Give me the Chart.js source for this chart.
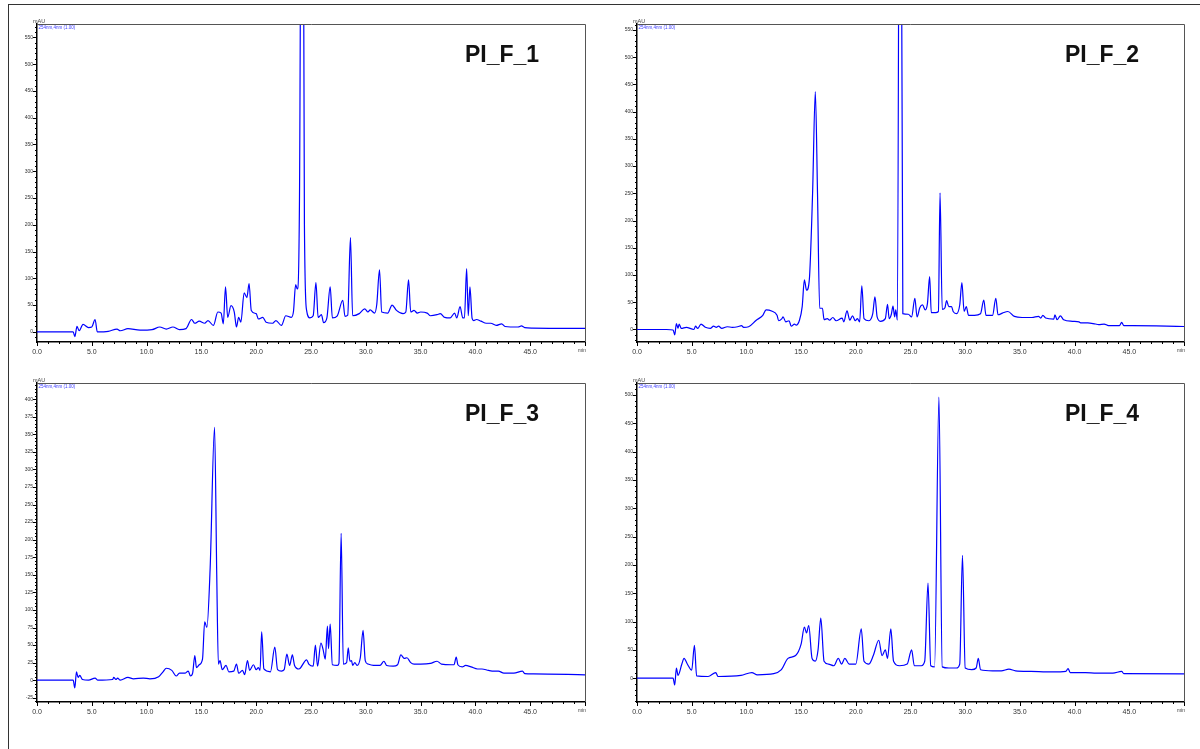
<!DOCTYPE html>
<html><head><meta charset="utf-8">
<script src="https://cdn.jsdelivr.net/npm/chart.js@4.4.1/dist/chart.umd.min.js"></script>
<style>
html,body{margin:0;padding:0;background:#fff;width:1200px;height:749px;overflow:hidden;}
.frame{position:absolute;left:8px;top:4px;width:1300px;height:800px;border-top:1.5px solid #333;border-left:1.5px solid #333;}
.panel{position:absolute;}
canvas{display:block;}
</style></head><body>
<div class="frame"></div>
<div class="panel" style="left:0;top:0;"><canvas id="c1" width="600" height="370"></canvas></div>
<div class="panel" style="left:600px;top:0;"><canvas id="c2" width="600" height="370"></canvas></div>
<div class="panel" style="left:0;top:358px;"><canvas id="c3" width="600" height="391"></canvas></div>
<div class="panel" style="left:600px;top:358px;"><canvas id="c4" width="600" height="391"></canvas></div>
<script>
// ---- data (retention time, min / absorbance, mAU) ----
const panelTitles = ["PI_F_1", "PI_F_2", "PI_F_3", "PI_F_4"];
const detectorLabel = "254nm,4nm (1.00)";
const xMajorLabels = ["0.0","5.0","10.0","15.0","20.0","25.0","30.0","35.0","40.0","45.0"];

const p1Time = [0,3.3,3.45,3.65,3.85,4.2,4.7,5.0,5.3,5.5,6.5,7.3,7.6,8.3,9.4,10.5,11.2,11.8,12.4,13.0,13.6,14.1,14.4,14.8,15.3,15.6,16.1,16.5,16.8,17.0,17.2,17.4,17.7,18.0,18.2,18.4,18.6,18.9,19.15,19.35,19.55,20.0,20.2,20.6,20.9,21.5,21.8,22.3,22.7,23.2,23.4,23.6,23.75,23.95,24.2,24.4,24.6,24.9,25.2,25.45,25.65,25.95,26.15,26.45,26.75,26.95,27.4,27.9,28.1,28.35,28.6,28.8,29.4,29.9,30.2,30.4,30.8,31.0,31.25,31.45,32.0,32.4,32.8,33.4,33.65,33.9,34.1,34.4,34.7,35.0,35.6,35.9,36.5,36.8,37.2,37.7,38.1,38.3,38.6,38.85,39.0,39.2,39.35,39.5,39.7,39.85,40.1,40.5,41.0,41.4,41.9,42.4,42.7,43.9,44.2,44.5,45.2,50];
const p1Signal = [0,0,-9,10,2,14,8,9,23,0,1,5,2,6,3,4,9,5,9,4,6,23,16,20,16,21,12,37,35,15,84,27,49,37,9,27,18,73,64,90,40,34,24,27,18,16,21,12,30,27,38,88,80,250,1400,200,40,26,30,92,27,32,17,26,84,26,30,59,29,31,176,30,34,43,37,41,35,51,116,37,35,50,40,34,37,97,37,40,35,37,35,30,32,34,27,26,35,26,47,26,26,118,30,84,25,21,23,20,16,16,12,15,10,9,11,8,7,6.5];

const p2Time = [0,2.7,3.3,3.45,3.6,3.75,3.85,4.05,4.5,5.2,5.35,5.55,5.85,6.25,6.7,7.0,7.25,7.45,7.75,8.25,8.7,9.2,9.55,9.75,10.2,10.9,11.5,11.8,12.3,12.8,12.95,13.25,13.35,13.6,13.9,14.1,14.4,14.55,14.85,15.1,15.3,15.5,15.75,16.05,16.3,16.5,16.7,16.95,17.1,17.4,17.6,17.9,18.2,18.75,18.9,19.2,19.45,19.7,19.95,20.15,20.35,20.55,20.75,21.2,21.55,21.75,21.95,22.25,22.7,22.9,23.05,23.25,23.4,23.55,23.65,23.8,24.05,24.3,24.8,25.1,25.4,25.6,25.85,26.1,26.35,26.55,26.75,26.9,27.3,27.55,27.7,27.9,28.15,28.3,28.5,28.75,28.9,29.2,29.5,29.7,29.9,30.1,30.3,30.85,31.4,31.7,31.9,32.5,32.8,33.0,33.4,33.9,34.5,35.2,36.1,36.7,36.9,37.1,37.35,38.1,38.2,38.4,38.7,39.0,39.8,40.4,40.6,41.2,41.9,42.2,42.7,43.1,44.1,44.3,44.5,45.3,50];
const p2Signal = [0,0,-1,-10,11,2,10,2,4,0,6,2,10,4,2,6,4,6,2,5,4,5,7,4,5,17,26,36,34,26,16,20,23,14,16,6,10,8,17,42,91,72,91,250,437,250,39,39,18,20,17,22,16,21,14,34,17,25,16,20,14,80,20,16,29,60,23,15,20,46,20,28,43,23,36,17,1400,29,28,23,57,23,40,45,36,48,97,31,31,33,251,37,40,53,42,42,33,29,45,86,33,42,26,26,29,54,26,26,57,27,30,33,24,22,22,24,21,26,21,19,27,18,25,18,15,14,12,12,10,9,10,7,7,13,7,7,5.5];

const p3Time = [0,3.3,3.45,3.6,3.75,3.9,4.15,4.7,5.3,5.55,6.9,7.0,7.2,7.35,7.6,8.3,8.8,9.7,10.3,11.1,11.5,11.8,12.3,12.7,13.0,13.5,13.8,14.0,14.2,14.4,14.55,14.8,15.1,15.3,15.5,15.8,16.2,16.4,16.55,16.7,16.9,17.25,17.5,17.95,18.2,18.4,18.75,18.95,19.2,19.4,19.75,20.0,20.2,20.35,20.5,20.7,21.3,21.7,21.95,22.3,22.55,22.8,23.05,23.3,23.5,23.9,24.6,24.8,25.2,25.4,25.6,25.9,26.1,26.3,26.5,26.6,26.75,26.95,27.4,27.55,27.75,27.95,28.25,28.4,28.55,28.7,28.8,29.0,29.2,29.5,29.75,29.95,30.2,30.7,31.3,31.65,31.9,32.5,32.9,33.2,33.5,33.75,34.1,34.4,35.0,35.9,36.5,36.9,37.8,38.05,38.25,38.4,38.8,39.1,39.6,40.2,40.6,41.2,41.7,42.1,42.6,43.5,44.3,44.5,45.3,50];
const p3Signal = [0,0,-11,12,4,7,1,0,3,0,1,4,1,3,0,4,2,3,2,5,12,17,14,6,10,10,13,6,10,35,18,22,30,83,75,160,360,150,23,28,15,21,12,13,23,10,14,8,28,14,22,15,18,14,69,16,12,47,15,13,15,37,21,36,21,16,29,23,20,50,20,53,44,30,77,45,80,22,21,24,209,23,25,46,27,28,21,25,21,32,71,28,23,21,21,27,21,20,22,36,31,32,25,23,23,24,27,23,22,22,33,22,19,21,19,16,16,14,13,13,10,10,13,9.5,9,7.7];

const p4Time = [0,3.3,3.45,3.6,3.75,4.1,4.3,4.6,5.0,5.25,5.45,6.5,7.2,7.4,9.5,10.5,11.0,12.5,13.2,13.8,14.5,15.0,15.3,15.5,15.7,16.0,16.3,16.55,16.8,17.1,17.5,18.0,18.4,18.7,19.0,19.4,20.0,20.5,20.75,21.2,21.6,22.1,22.4,22.7,22.9,23.2,23.45,24.0,24.7,25.1,25.35,26.0,26.3,26.6,26.85,27.2,27.6,27.9,28.5,29.2,29.5,29.75,30.0,30.6,31.0,31.2,31.4,32.5,33.3,34.0,34.6,36.0,38.0,39.2,39.4,39.6,41.0,42.0,43.5,44.3,44.5,50];
const p4Signal = [0,0,-12,18,5,25,35,25,14,58,4,3,10,3,5,10,6,8,15,35,40,60,90,80,93,35,30,50,106,30,25,22,35,25,35,25,25,87,30,25,40,67,40,50,35,87,30,22,25,50,22,22,30,168,22,20,496,20,18,18,25,217,18,15,18,35,15,13,13,16,13,12,11,12,17,10,10,9,9,12,8,7.5];

const yRanges = [[-19,575],[-23,561],[-31,423],[-42,521]];
const yLabelSteps = [50,50,25,50];
const yMinorSteps = [10,10,5,10];

const FONT = '"Liberation Sans", Arial, sans-serif';

function makeChart(id, idx, times, values, pad, xHeight){
  const pts = times.map((t,i)=>({x:t, y:values[i]}));
  const yMajor = yLabelSteps[idx];
  const decor = {
    id:'decor'+idx,
    afterDraw(chart){
      const {ctx, chartArea:a, scales:{x,y}} = chart;
      ctx.save();
      ctx.strokeStyle='#555'; ctx.lineWidth=1;
      ctx.beginPath();
      ctx.moveTo(a.left, a.top+0.5); ctx.lineTo(a.right+0.5, a.top+0.5); ctx.lineTo(a.right+0.5, a.bottom);
      ctx.stroke();
      ctx.strokeStyle='#000'; ctx.lineWidth=1;
      ctx.beginPath();
      y.ticks.forEach(t=>{
        const py = Math.round(y.getPixelForValue(t.value))+0.5;
        const len = (Math.abs(t.value % yMajor) < 1e-6) ? 4 : 2;
        ctx.moveTo(a.left-len, py); ctx.lineTo(a.left, py);
      });
      x.ticks.forEach(t=>{
        const px = Math.round(x.getPixelForValue(t.value))+0.5;
        const len = (Math.abs(t.value % 5) < 1e-6) ? 4 : 2;
        ctx.moveTo(px, a.bottom); ctx.lineTo(px, a.bottom+len);
      });
      ctx.stroke();
      ctx.fillStyle='#444';
      ctx.font = '5.5px '+FONT;
      ctx.textAlign='left'; ctx.textBaseline='alphabetic';
      ctx.fillText('mAU', a.left-4, a.top-1.5);
      ctx.font = '5px '+FONT;
      ctx.textAlign='right'; ctx.textBaseline='middle';
      ctx.fillText('min', a.right+1, a.bottom+9);
      ctx.fillStyle='#3a3aff';
      ctx.font = '4.5px '+FONT;
      ctx.textAlign='left'; ctx.textBaseline='top';
      ctx.fillText(detectorLabel, a.left+1.5, a.top+2);
      ctx.fillStyle='#111';
      ctx.font = 'bold 23px '+FONT;
      ctx.textAlign='left'; ctx.textBaseline='alphabetic';
      ctx.fillText(panelTitles[idx], a.left+428, a.top+37.5);
      ctx.restore();
    }
  };
  return new Chart(document.getElementById(id), {
    type:'line',
    data:{datasets:[{data:pts, borderColor:'#0000ff', borderWidth:1.2, pointRadius:0, fill:false, cubicInterpolationMode:'monotone'}]},
    options:{
      responsive:false, animation:false, devicePixelRatio:1,
      layout:{padding:pad},
      plugins:{legend:{display:false}, title:{display:false}, tooltip:{enabled:false}},
      scales:{
        x:{type:'linear', min:0, max:50,
          afterFit(s){ s.height = xHeight; },
          grid:{display:true, drawOnChartArea:false, drawTicks:true, tickLength:4, tickColor:'rgba(0,0,0,0)'},
          border:{display:true, color:'#000', width:1.5},
          ticks:{stepSize:1, autoSkip:false, maxRotation:0, maxTicksLimit:1000, padding:2, color:'#333', font:{family:FONT, size:7},
            callback(v){ const k = Math.round(v); return (Math.abs(v-k)<1e-6 && k%5===0 && k<50) ? xMajorLabels[k/5] : ''; }}
        },
        y:{type:'linear', min:yRanges[idx][0], max:yRanges[idx][1],
          afterFit(s){ s.width = 37; },
          grid:{display:true, drawOnChartArea:false, drawTicks:true, tickLength:4, tickColor:'rgba(0,0,0,0)'},
          border:{display:true, color:'#000', width:1.5},
          ticks:{stepSize:yMinorSteps[idx], includeBounds:false, autoSkip:false, maxTicksLimit:1000, padding:0, color:'#333', font:{family:FONT, size:5},
            callback(v){ return (Math.abs(v % yMajor) < 1e-6) ? String(v) : ''; }}
        }
      }
    },
    plugins:[decor]
  });
}

makeChart('c1', 0, p1Time, p1Signal, {top:24, right:15, left:0, bottom:0}, 28);
makeChart('c2', 1, p2Time, p2Signal, {top:24, right:16, left:0, bottom:0}, 28);
makeChart('c3', 2, p3Time, p3Signal, {top:25, right:15, left:0, bottom:0}, 47);
makeChart('c4', 3, p4Time, p4Signal, {top:25, right:16, left:0, bottom:0}, 47);
</script>
</body></html>
